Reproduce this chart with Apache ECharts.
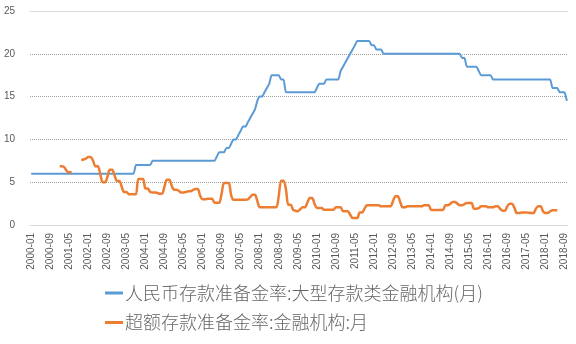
<!DOCTYPE html>
<html>
<head>
<meta charset="utf-8">
<script src="https://cdn.jsdelivr.net/npm/echarts@6/dist/echarts.min.js"></script>
<style>
  html, body { margin: 0; padding: 0; background: #ffffff; }
  #chart { width: 576px; height: 344px; }
</style>
</head>
<body>
<div id="chart"></div>
<script>
// Monthly categories, 2000-01 through 2018-10
const startYear = 2000, endYear = 2018, endMonth = 10;
const months = [];
for (let y = startYear; y <= endYear; y++) {
  for (let m = 1; m <= 12; m++) {
    if (y === endYear && m > endMonth) break;
    months.push(y + '-' + (m < 10 ? '0' + m : m));
  }
}

const seriesNames = [
  '人民币存款准备金率:大型存款类金融机构(月)',
  '超额存款准备金率:金融机构:月'
];

// Reserve requirement ratio, large depository institutions (%), one row per year
const rrrLarge = [
  6,6,6,6,6,6,6,6,6,6,6,6,
  6,6,6,6,6,6,6,6,6,6,6,6,
  6,6,6,6,6,6,6,6,6,6,6,6,
  6,6,6,6,6,6,6,6,7,7,7,7,
  7,7,7,7.5,7.5,7.5,7.5,7.5,7.5,7.5,7.5,7.5,
  7.5,7.5,7.5,7.5,7.5,7.5,7.5,7.5,7.5,7.5,7.5,7.5,
  7.5,7.5,7.5,7.5,7.5,7.5,8,8.5,8.5,8.5,9,9,
  9.5,10,10,10.5,11,11.5,11.5,12,12.5,13,13.5,14.5,
  15,15,15.5,16,16.5,17.5,17.5,17.5,17.5,17,17,15.5,
  15.5,15.5,15.5,15.5,15.5,15.5,15.5,15.5,15.5,15.5,15.5,15.5,
  16,16.5,16.5,16.5,17,17,17,17,17,17,18,18.5,
  19,19.5,20,20.5,21,21.5,21.5,21.5,21.5,21.5,21.5,21,
  21,20.5,20.5,20.5,20,20,20,20,20,20,20,20,
  20,20,20,20,20,20,20,20,20,20,20,20,
  20,20,20,20,20,20,20,20,20,20,20,20,
  20,19.5,19.5,18.5,18.5,18.5,18.5,18.5,18,17.5,17.5,17.5,
  17.5,17.5,17,17,17,17,17,17,17,17,17,17,
  17,17,17,17,17,17,17,17,17,17,17,17,
  17,17,17,16,16,16,15.5,15.5,15.5,14.5
];

// Excess reserve ratio, financial institutions (%), one row per year
const excessReserve = [
  null,null,null,null,null,null,null,null,null,null,null,null,
  6.85,6.85,6.7,6.3,6.15,6.15,null,null,null,7.6,7.65,7.75,
  7.95,7.95,7.5,6.85,6.85,6.0,5.0,5.0,5.6,6.45,6.45,5.8,
  5.15,5.15,4.5,3.86,3.86,3.6,3.58,3.58,3.58,5.38,5.38,5.38,
  4.25,4.25,3.85,3.81,3.81,3.75,3.66,3.66,4.5,5.3,5.3,4.6,
  4.13,4.13,4.0,3.81,3.81,3.85,3.95,3.95,4.1,4.2,4.2,3.4,
  3.0,3.0,3.05,3.08,3.08,2.6,2.6,2.6,3.7,4.9,4.9,4.9,
  3.5,2.96,2.96,2.96,2.96,2.96,2.96,3.0,3.25,3.54,3.54,2.8,
  2.06,2.06,2.06,2.06,2.06,2.06,2.06,2.06,3.4,5.18,5.18,4.2,
  2.37,2.37,1.79,1.67,1.6,1.85,2.06,2.06,2.6,3.16,3.16,2.5,
  2.0,2.0,1.99,1.79,1.79,1.79,1.79,1.79,2.06,2.06,2.06,1.6,
  1.6,1.6,1.2,0.82,0.82,0.82,1.47,1.47,1.9,2.3,2.3,2.3,
  2.3,2.3,2.3,2.18,2.18,2.18,2.18,2.18,2.8,3.35,3.35,2.7,
  2.06,2.06,2.18,2.18,2.18,2.18,2.18,2.18,2.18,2.3,2.3,2.3,
  1.75,1.75,1.75,1.75,1.75,1.75,2.3,2.3,2.45,2.69,2.69,2.5,
  2.3,2.3,2.45,2.57,2.57,2.57,1.9,1.9,1.97,2.18,2.18,2.18,
  2.06,2.06,2.06,2.18,2.18,1.9,1.67,1.67,2.2,2.49,2.49,2.0,
  1.4,1.4,1.45,1.47,1.47,1.42,1.4,1.4,1.9,2.18,2.18,1.6,
  1.4,1.4,1.6,1.71,1.71,1.71,null,null,null,null
];

const yTicks = { min: 0, max: 25, step: 5 };

const chart = echarts.init(document.getElementById('chart'), null, { renderer: 'canvas' });
const textColor = '#595959';

chart.setOption({
  animation: false,
  backgroundColor: '#ffffff',
  grid: { left: 30, right: 8, top: 11, bottom: 119, containLabel: false },
  legend: {
    orient: 'vertical',
    left: 100,
    top: 278,
    itemGap: 9.5,
    itemWidth: 18,
    itemHeight: 3,
    icon: 'rect',
    textStyle: {
      fontFamily: 'Noto Sans CJK SC',
      fontSize: 18,
      fontWeight: 300,
      lineHeight: 20,
      color: '#666666',
      padding: [0, 0, 0, -3]
    },
    data: seriesNames
  },
  xAxis: [{
    type: 'category',
    data: months,
    boundaryGap: true,
    axisLine: { show: true, lineStyle: { color: '#d9d9d9', width: 1 } },
    axisTick: { show: false },
    splitLine: { show: false },
    axisLabel: {
      interval: 7,
      rotate: 90,
      margin: 8,
      fontFamily: 'Liberation Sans',
      fontSize: 10,
      color: textColor
    }
  }, {
    type: 'category',
    data: months,
    position: 'top',
    boundaryGap: true,
    axisLine: { show: true, lineStyle: { color: '#d9d9d9', width: 1 } },
    axisTick: { show: false },
    axisLabel: { show: false }
  }],
  yAxis: {
    type: 'value',
    min: yTicks.min,
    max: yTicks.max,
    interval: yTicks.step,
    axisLine: { show: false },
    axisTick: { show: false },
    axisLabel: {
      margin: 15,
      fontFamily: 'Liberation Sans',
      fontSize: 10,
      color: textColor
    },
    splitLine: {
      show: true,
      lineStyle: {
        color: ['rgba(0,0,0,0)', '#a0a0a0', '#a0a0a0', '#a0a0a0', '#a0a0a0', 'rgba(0,0,0,0)'],
        type: [1, 1],
        width: 1
      }
    }
  },
  series: [{
    name: seriesNames[0],
    type: 'line',
    data: rrrLarge,
    showSymbol: false,
    smooth: 0.2,
    lineStyle: { color: '#5b9bd5', width: 2 },
    itemStyle: { color: '#5b9bd5' },
    z: 3
  }, {
    name: seriesNames[1],
    type: 'line',
    data: excessReserve,
    showSymbol: false,
    smooth: 0.3,
    connectNulls: false,
    lineStyle: { color: '#ed7d31', width: 2.5 },
    itemStyle: { color: '#ed7d31' },
    z: 4
  }]
});
</script>
</body>
</html>
